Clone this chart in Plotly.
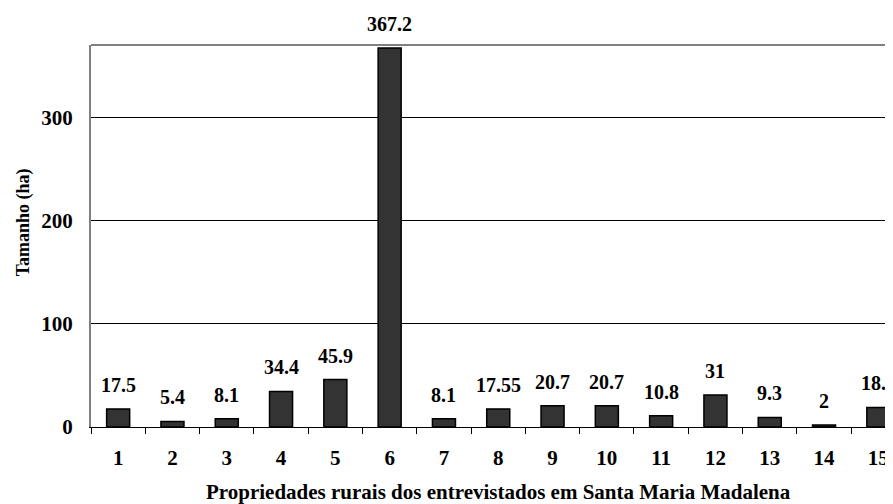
import plotly.graph_objects as go

categories = [str(i) for i in range(1, 16)]
values = [17.5, 5.4, 8.1, 34.4, 45.9, 367.2, 8.1, 17.55, 20.7, 20.7, 10.8, 31, 9.3, 2, 18.9]
labels = ["17.5", "5.4", "8.1", "34.4", "45.9", "367.2", "8.1", "17.55", "20.7", "20.7", "10.8", "31", "9.3", "2", "18.9"]
y_ticks = [0, 100, 200, 300]

FONT = "Liberation Serif"

fig = go.Figure(go.Bar(
    x=categories, y=values, cliponaxis=False,
    marker=dict(color="#333333", line=dict(color="#000000", width=1.5)),
))

# data labels: positioned at each category's index on the category axis
annotations = [
    dict(x=i, y=v, text=t, xref="x", yref="y", showarrow=False, yanchor="bottom",
         yshift=11, font=dict(family=FONT, size=20, color="#000000", weight="bold"))
    for i, (v, t) in enumerate(zip(values, labels))
]
annotations.append(dict(
    text="Propriedades rurais dos entrevistados em Santa Maria Madalena",
    xref="paper", yref="paper", x=0.508, y=0, yshift=-65, yanchor="middle",
    showarrow=False, font=dict(family=FONT, size=21, color="#000000", weight="bold")))
annotations.append(dict(
    text="Tamanho (ha)", xref="paper", yref="paper", x=-0.084, y=0.535,
    textangle=-90, showarrow=False, xanchor="center", yanchor="middle",
    font=dict(family=FONT, size=18, color="#000000", weight="bold")))

# the page body has an 8px default margin, so the figure is sized/offset to compensate
fig.update_layout(
    width=885, height=496,
    margin=dict(l=83, r=0, t=37, b=77),
    plot_bgcolor="white", paper_bgcolor="white",
    bargap=0.576, showlegend=False,
    font=dict(family=FONT, size=20, color="#000000"),
    annotations=annotations,
    xaxis=dict(
        type="category", range=[-0.5, 14.27], automargin=False,
        showline=True, linecolor="#000000", linewidth=1,
        ticks="outside", tickson="boundaries", ticklen=6, tickcolor="#000000",
        showgrid=False, ticklabelstandoff=12,
        tickfont=dict(family=FONT, size=21, weight="bold"),
    ),
    yaxis=dict(
        range=[0, 370], tickvals=y_ticks, automargin=False,
        showline=True, linecolor="#808080", linewidth=2,
        showgrid=True, gridcolor="#000000", gridwidth=1,
        zeroline=False, ticks="", ticklabelstandoff=12,
        tickfont=dict(family=FONT, size=21, weight="bold"),
    ),
    shapes=[dict(type="line", xref="paper", yref="paper", x0=0, x1=1, y0=1, y1=1,
                 line=dict(color="#808080", width=2))],
)

fig.write_html("out.html")
